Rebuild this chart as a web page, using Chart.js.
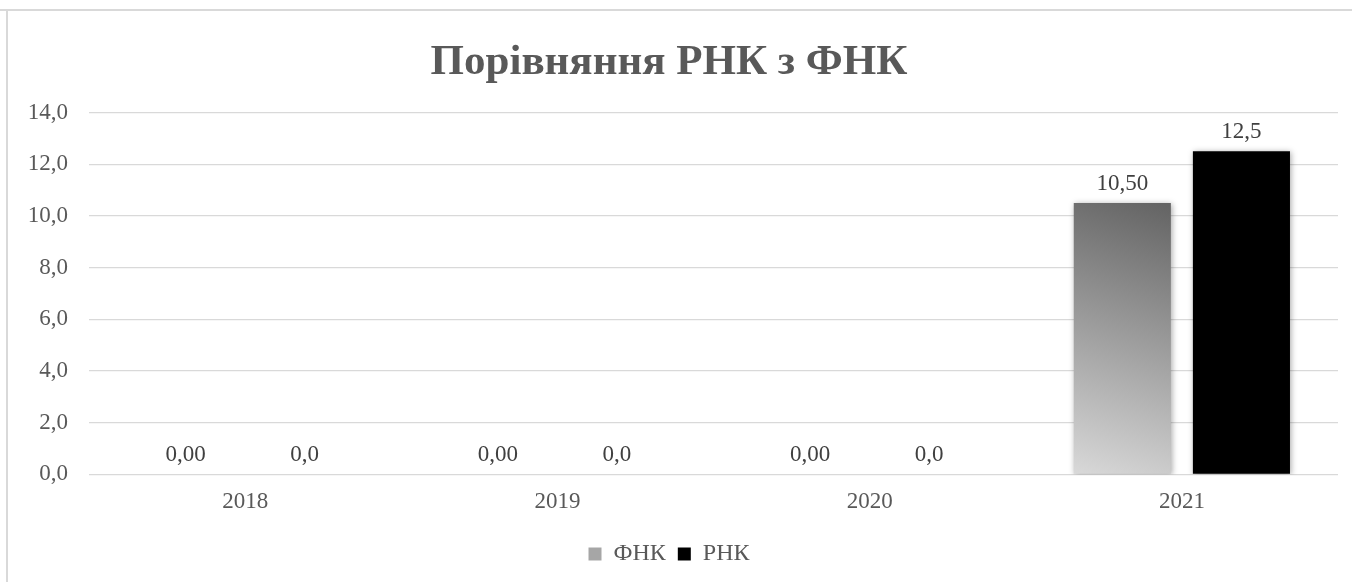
<!DOCTYPE html>
<html>
<head>
<meta charset="utf-8">
<script src="https://cdn.jsdelivr.net/npm/chart.js@4"></script>
<style>
  body { margin: 0; background: #fff; }
  #wrap { position: relative; width: 1352px; height: 582px; }
  #frame {
    position: absolute; left: 6px; top: 9px; right: -4px; bottom: -4px;
    border-top: 2px solid #d9d9d9; border-left: 2px solid #d9d9d9;
    pointer-events: none;
  }
  #topstub { position: absolute; left: 0; top: 9px; width: 8px; height: 2px; background: #d9d9d9; }
</style>
</head>
<body>
<div id="wrap">
  <canvas id="mychart" width="1352" height="582"></canvas>
  <div id="frame"></div>
  <div id="topstub"></div>
</div>
<script>
const years = ["2018", "2019", "2020", "2021"];
const fnkValues = [0, 0, 0, 10.5];
const rnkValues = [0, 0, 0, 12.5];
const yTicks = [0, 2, 4, 6, 8, 10, 12, 14];

const textColor = "#595959";
const serif = "'Liberation Serif', 'Times New Roman', serif";
const legendFill = ["#a6a6a6", "#000000"];

function formatComma(value, digits) {
  return value.toFixed(digits).replace(".", ",");
}

function fnkGradient(context) {
  let chart = context.chart;
  let area = chart.chartArea;
  if (!area || context.type !== "data") return "#a6a6a6";
  let ctx = chart.ctx;
  let x = chart.scales.x.getPixelForValue(context.dataIndex);
  let yBottom = chart.scales.y.getPixelForValue(0);
  let yTop = chart.scales.y.getPixelForValue(fnkValues[context.dataIndex]);
  let grad = ctx.createLinearGradient(x - 110, yBottom, x - 20, yTop);
  grad.addColorStop(0, "#d9d9d9");
  grad.addColorStop(1, "#646464");
  return grad;
}

const valueLabels = {
  id: "valueLabels",
  afterDatasetsDraw(chart) {
    let ctx = chart.ctx;
    ctx.save();
    ctx.font = "23px " + serif;
    ctx.fillStyle = "#404040";
    ctx.textAlign = "center";
    ctx.textBaseline = "bottom";
    chart.data.datasets.forEach(function(dataset, i) {
      let meta = chart.getDatasetMeta(i);
      meta.data.forEach(function(bar, j) {
        ctx.fillText(formatComma(dataset.data[j], dataset.digits), bar.x, bar.y - 8);
      });
    });
    ctx.restore();
  }
};

const barShadow = {
  id: "barShadow",
  beforeDatasetsDraw(chart) {
    chart.ctx.save();
    chart.ctx.shadowColor = "rgba(0,0,0,0.35)";
    chart.ctx.shadowBlur = 6;
    chart.ctx.shadowOffsetX = 1;
    chart.ctx.shadowOffsetY = 1;
  },
  afterDatasetsDraw(chart) {
    chart.ctx.restore();
  }
};

let ctx = document.getElementById("mychart").getContext("2d");
let myChart = new Chart(ctx, {
  type: "bar",
  data: {
    labels: years,
    datasets: [
      { label: "ФНК", data: fnkValues, digits: 2, backgroundColor: fnkGradient,
        categoryPercentage: 0.763, barPercentage: 0.815 },
      { label: "РНК", data: rnkValues, digits: 1, backgroundColor: "#000000",
        categoryPercentage: 0.763, barPercentage: 0.815 }
    ]
  },
  plugins: [barShadow, valueLabels],
  options: {
    responsive: false,
    animation: false,
    layout: { padding: { left: 0, right: 14, top: 0, bottom: 6 } },
    scales: {
      x: {
        grid: { display: false, drawTicks: false },
        border: { display: false },
        ticks: { color: textColor, font: { family: serif, size: 23 }, padding: 14 }
      },
      y: {
        min: 0,
        max: 14,
        afterBuildTicks: function(scale) {
          scale.ticks = yTicks.map(v => ({ value: v }));
        },
        afterFit: function(scale) {
          scale.width = 89;
        },
        grid: { color: "#d9d9d9", lineWidth: 1.3, drawTicks: false },
        border: { display: false },
        ticks: {
          color: textColor,
          font: { family: serif, size: 23 },
          padding: 21,
          callback: v => formatComma(v, 1)
        }
      }
    },
    plugins: {
      title: {
        display: true,
        text: "Порівняння РНК з ФНК",
        color: textColor,
        font: { family: serif, size: 43, weight: "bold" },
        padding: { top: 37, bottom: 24 }
      },
      legend: {
        position: "bottom",
        labels: {
          color: textColor,
          font: { family: serif, size: 24 },
          boxWidth: 13,
          boxHeight: 13,
          padding: 12,
          generateLabels: function(chart) {
            let items = Chart.defaults.plugins.legend.labels.generateLabels(chart);
            items.forEach(function(item, i) {
              item.fillStyle = legendFill[i];
              item.strokeStyle = legendFill[i];
              item.lineWidth = 0;
            });
            return items;
          }
        }
      },
      tooltip: { enabled: false }
    }
  }
});
</script>
</body>
</html>
